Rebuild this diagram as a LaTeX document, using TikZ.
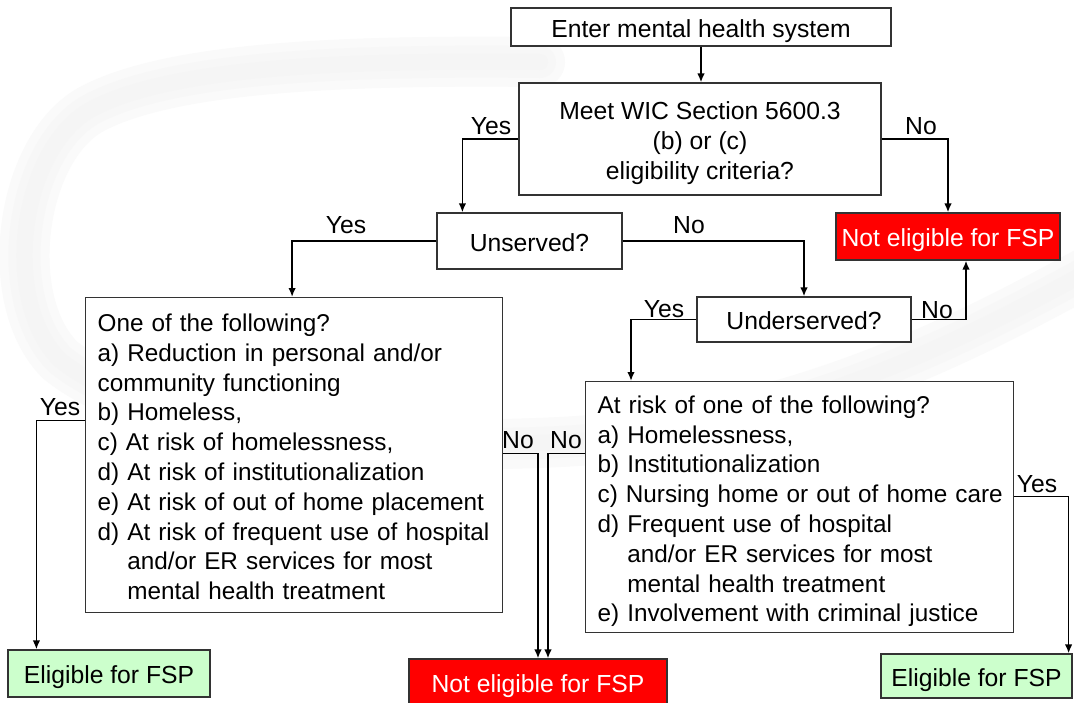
\documentclass[tikz,border=0pt]{standalone}
\usepackage{fontspec}
\setmainfont{Liberation Sans}
\usetikzlibrary{arrows.meta}
\definecolor{fspred}{HTML}{FF0000}
\definecolor{fspgreen}{HTML}{CCFFCC}
\begin{document}
\begin{tikzpicture}[x=1pt,y=-1pt,
  font=\fontsize{24.7}{29.6}\selectfont,
  box/.style={draw=black!80, line width=1.2pt, fill=white, inner sep=0pt, align=center},
  single/.style={text height=20pt, text depth=0pt},
  txtbox/.style={draw=black!80, line width=1.2pt, fill=white, anchor=north west, align=left, inner xsep=12pt, inner ysep=0pt,
    font=\fontsize{24.3}{29.8}\selectfont},
  redbox/.style={box, single, fill=fspred, text=white},
  greenbox/.style={box, single, fill=fspgreen},
  arr/.style={-{Latex[length=9pt,width=7.5pt]}, line width=1.7pt},
  lbl/.style={anchor=base, inner sep=0pt},
  swoosh/.style={line cap=round}]
\useasboundingbox (0,0) rectangle (1074,702);
\fill[white] (0,0) rectangle (1074,702);
% faint background swoosh
\foreach \w/\c in {50/2,32/3,16/4} {
  \draw[swoosh, line width=\w pt, color=black!\c]
    (540,62) .. controls (350,60) and (170,66) .. (90,110)
    .. controls (20,150) and (0,300) .. (60,360)
    .. controls (160,440) and (400,450) .. (560,442)
    .. controls (800,430) and (980,330) .. (1100,265);
}
% nodes
\node[box, single, minimum width=380pt, minimum height=38pt] (enter) at (701,27) {Enter mental health system};
\node[box, minimum width=362pt, minimum height=112pt] (wic) at (700,139) {\rule{0pt}{26pt}Meet WIC Section 5600.3\\(b) or (c)\\eligibility criteria?};
\node[redbox, minimum width=224pt, minimum height=47pt] (ne1) at (948,236.5) {Not eligible for FSP};
\node[box, single, minimum width=185pt, minimum height=56pt] (unserved) at (529.5,241) {Unserved?};
\node[box, single, minimum width=214pt, minimum height=45pt] (underserved) at (804,319.5) {Underserved?};
\node[txtbox, text width=393pt, minimum height=315pt] (leftbox) at (85,297) {\mbox{\rule{0pt}{26pt}One of the following?}\\
\mbox{a) Reduction in personal and/or}\\
\mbox{community functioning}\\
\mbox{b) Homeless,}\\
\mbox{c) At risk of homelessness,}\\
\mbox{d) At risk of institutionalization}\\
\mbox{e) At risk of out of home placement}\\
\mbox{d) At risk of frequent use of hospital}\\
\mbox{\phantom{d) }and/or ER services for most}\\
\mbox{\phantom{d) }mental health treatment}};
\node[txtbox, text width=404pt, minimum height=251pt] (rightbox) at (585,381) {\mbox{\rule{0pt}{26pt}At risk of one of the following?}\\
\mbox{a) Homelessness,}\\
\mbox{b) Institutionalization}\\
\mbox{c) Nursing home or out of home care}\\
\mbox{d) Frequent use of hospital}\\
\mbox{\phantom{d) }and/or ER services for most}\\
\mbox{\phantom{d) }mental health treatment}\\
\mbox{e) Involvement with criminal justice}};
\node[greenbox, minimum width=202pt, minimum height=47pt] (elig1) at (109,673.5) {Eligible for FSP};
\node[greenbox, minimum width=191pt, minimum height=44pt] (elig2) at (976.5,676) {Eligible for FSP};
\node[redbox, minimum width=258pt, minimum height=47pt] (ne2) at (538,682.5) {Not eligible for FSP};
% connectors
\draw[arr] (enter.south) -- (enter.south |- wic.north);
\draw[arr] (wic.west) -| ([xshift=26pt]unserved.north west);
\draw[arr] (wic.east) -| (ne1.north);
\draw[arr] (unserved.west) -| ([xshift=-2pt]leftbox.north);
\draw[arr] (unserved.east) -| (underserved.north);
\draw[arr] (underserved.west) -| ([xshift=46pt]rightbox.north west);
\draw[arr] (underserved.east) -| ([xshift=18pt]ne1.south);
\draw[arr] ([yshift=34.5pt]leftbox.west) -| ([xshift=29pt]elig1.north west);
\draw[arr] ([yshift=1.5pt]leftbox.east) -| (ne2.north);
\draw[arr] ([yshift=53.5pt]rightbox.west) -| ([xshift=10pt]ne2.north);
\draw[arr] ([yshift=10.5pt]rightbox.east) -| ([xshift=-4pt]elig2.north east);
% labels
\node[lbl] (y1) at (491,134) {Yes};
\node[lbl] (n1) at (921,134) {No};
\node[lbl] (y2) at (346,233) {Yes};
\node[lbl] (n2) at (689,233) {No};
\node[lbl] (y3) at (664,317) {Yes};
\node[lbl] (n3) at (937,318) {No};
\node[lbl] (y4) at (60,415) {Yes};
\node[lbl] (n4) at (518,448) {No};
\node[lbl] (n5) at (566,448) {No};
\node[lbl] (y5) at (1037,492) {Yes};
\end{tikzpicture}
\end{document}
